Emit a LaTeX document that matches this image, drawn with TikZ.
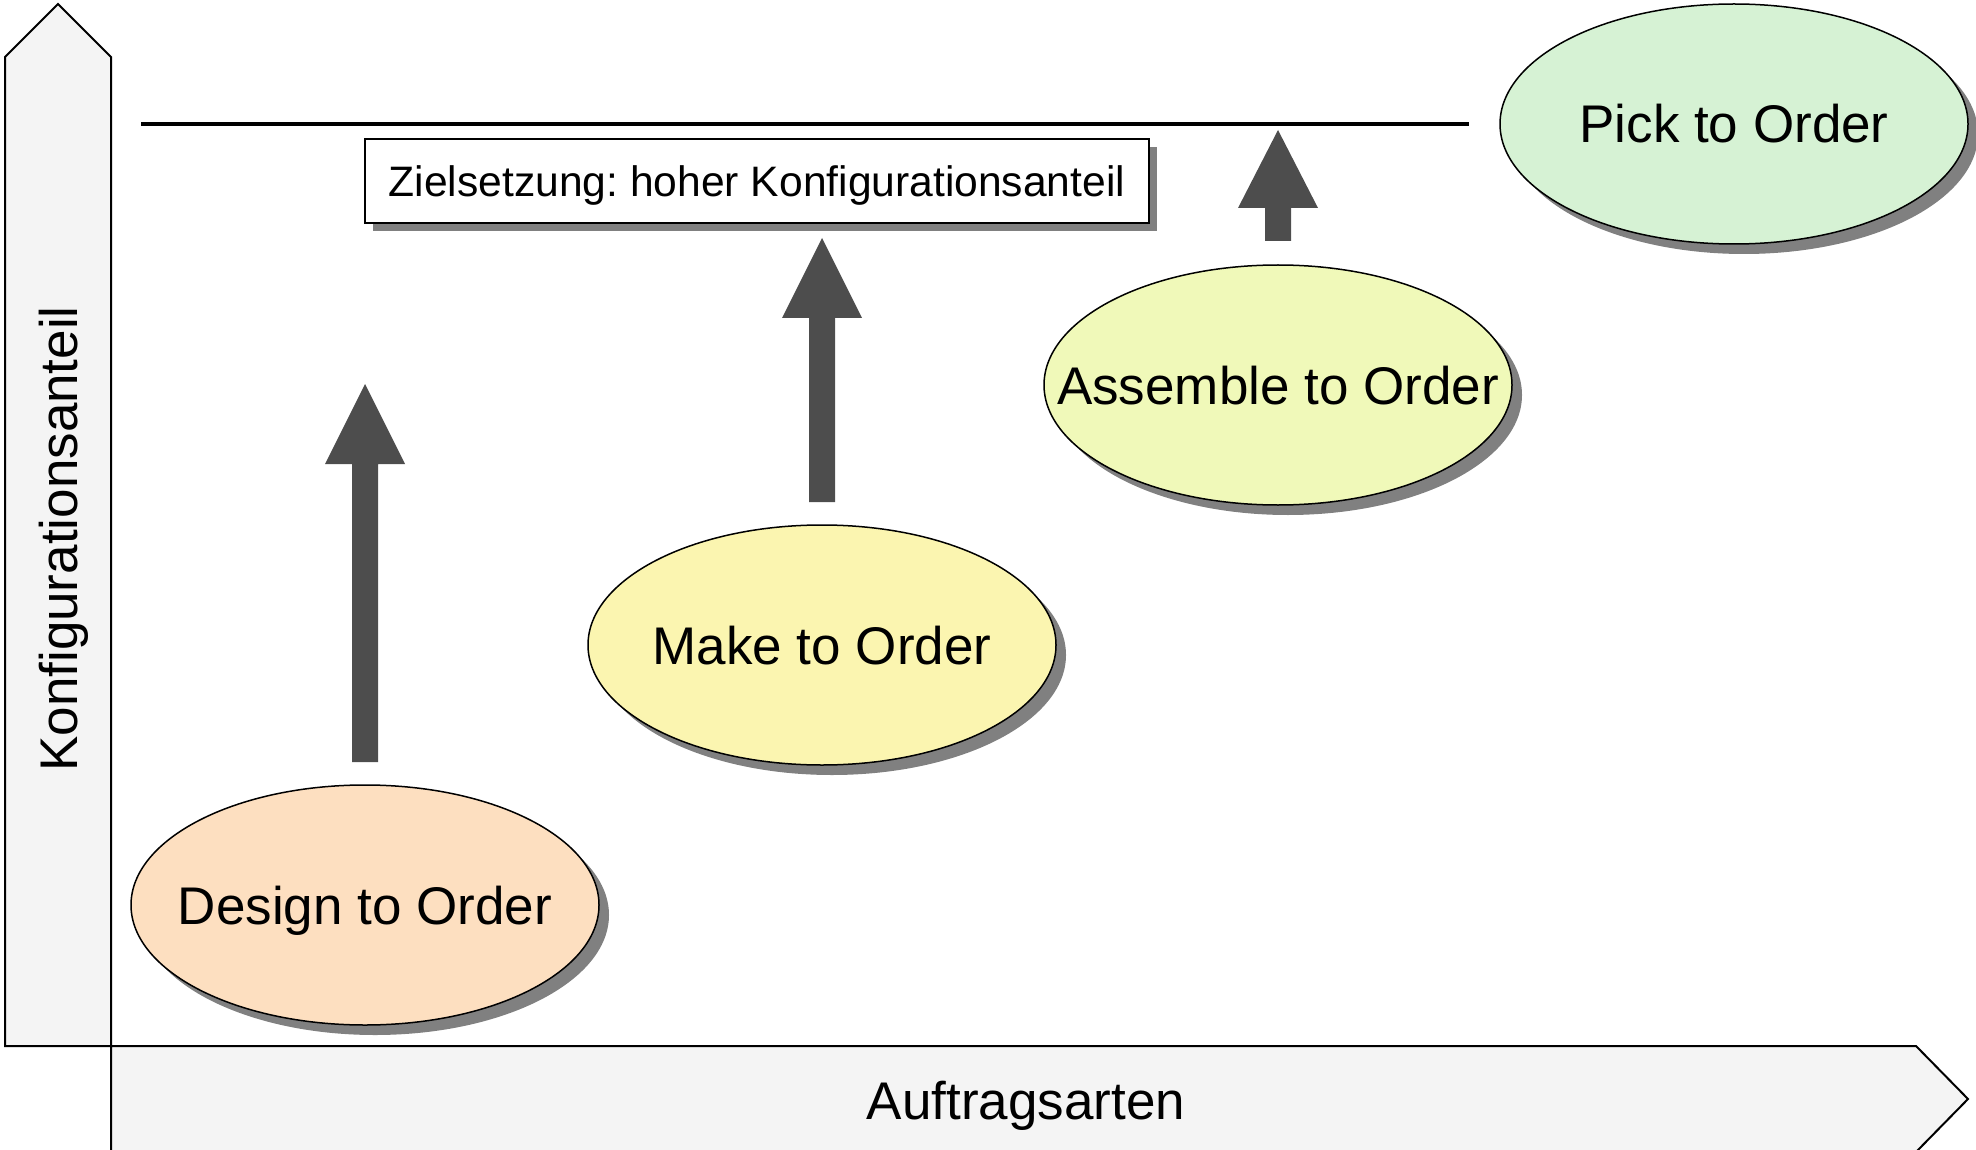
\documentclass[tikz,border=0pt]{standalone}
\usepackage{fontspec}
\setmainfont{Liberation Sans}
\usetikzlibrary{shapes.geometric,shadows}
\definecolor{panelgray}{HTML}{F4F4F4}
\definecolor{arrowgray}{HTML}{4D4D4D}
\definecolor{shadowgray}{HTML}{808080}
\definecolor{peach}{HTML}{FDDFC0}
\definecolor{paleyellow}{HTML}{FBF5B0}
\definecolor{limeyellow}{HTML}{F0F9B9}
\definecolor{palegreen}{HTML}{D6F2D4}
\newcommand{\ovaltext}[1]{\raisebox{-9.5pt}[0pt][0pt]{\makebox[0pt]{#1}}}
\frenchspacing
\begin{document}
\begin{tikzpicture}[x=0.5pt,y=-0.5pt,
  bigfont/.style={font=\fontsize{26.5}{30}\selectfont},
  oval/.style={ellipse, draw=black, line width=0.75pt, minimum width=234pt, minimum height=120pt, inner sep=0pt, bigfont,
    drop shadow={shadow xshift=5pt, shadow yshift=-5pt, fill=shadowgray, opacity=1}},
  panel/.style={fill=panelgray, draw=black, line width=1pt, line join=miter},
  uparrow/.style={fill=arrowgray, draw=none}]
\useasboundingbox (0,0) rectangle (1976,1150);
\clip (0,0) rectangle (1976,1150);
% axes
\draw[panel] (5,1046) -- (5,57) -- (58,4) -- (111,57) -- (111,1046) -- cycle;
\draw[panel] (111,1046) -- (1916,1046) -- (1968,1099) -- (1916,1152) -- (111,1152) -- cycle;
\node[rotate=90, bigfont] (ylabel) at (64,539) {Konfigurationsanteil};
\node[bigfont] (xlabel) at (1026,1106) {Auftragsarten};
% target line and box
\coordinate (lineL) at (141,124);
\coordinate (lineR) at (1469,124);
\draw[line width=2pt] (lineL) -- (lineR);
\node[draw=black, fill=white, line width=0.8pt, minimum width=392pt, minimum height=42pt,
  drop shadow={shadow xshift=4pt, shadow yshift=-4pt, fill=shadowgray, opacity=1},
  font=\fontsize{21.3}{24}\selectfont] (goal) at (757,181) {\raisebox{-7.6pt}[0pt][0pt]{Zielsetzung: hoher Konfigurationsanteil}};
% block arrows
\fill[uparrow] (352,762) -- (352,464) -- (325,464) -- (365,384) -- (405,464) -- (378,464) -- (378,762) -- cycle;
\fill[uparrow] (809,502) -- (809,318) -- (782,318) -- (822,238) -- (862,318) -- (835,318) -- (835,502) -- cycle;
\fill[uparrow] (1265,241) -- (1265,208) -- (1238,208) -- (1278,130) -- (1318,208) -- (1291,208) -- (1291,241) -- cycle;
% ellipses
\node[oval, fill=peach] (dto) at (365,905) {\ovaltext{Design to Order}};
\node[oval, fill=paleyellow] (mto) at (822,645) {\ovaltext{Make to Order}};
\node[oval, fill=limeyellow] (ato) at (1278,385) {\ovaltext{Assemble to Order}};
\node[oval, fill=palegreen] (pto) at (1734,124) {\ovaltext{Pick to Order}};
\end{tikzpicture}
\end{document}
